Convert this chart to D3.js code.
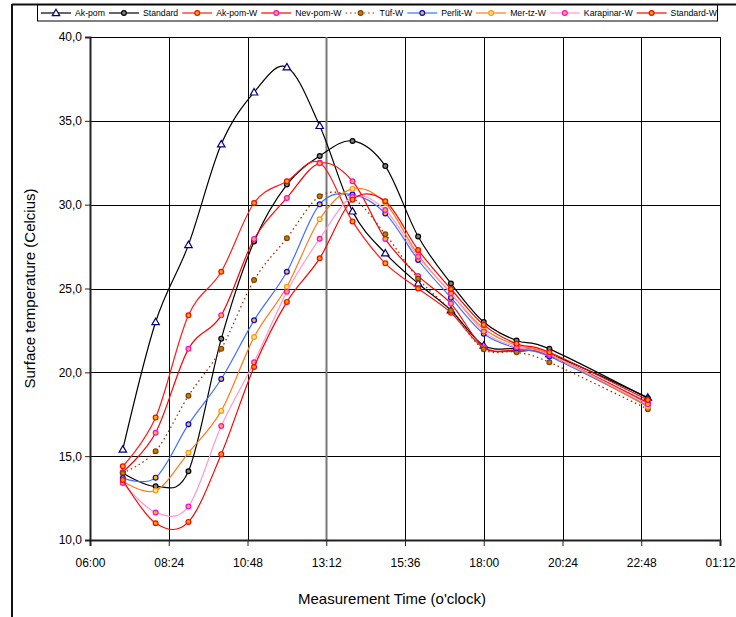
<!DOCTYPE html>
<html>
<head>
<meta charset="utf-8">
<script src="https://cdn.jsdelivr.net/npm/d3@7"></script>
<style>
	body { margin: 0; background: #fff; }
	svg text { font-family: "Liberation Sans", Arial, sans-serif; fill: #000; }
</style>
</head>
<body>
<div class="chart"></div>
<script>
// measurement hours (23 = last reading of the evening)
var hours = [7, 8, 9, 10, 11, 12, 13, 14, 15, 16, 17, 18, 19, 20, 23];

var akPom      = [15.4, 23.0, 27.6, 33.6, 36.7, 38.2, 34.7, 29.6, 27.1, 25.3, 23.7, 21.6, 21.4, 21.1, 18.5];
var standard   = [14.0, 13.2, 14.1, 22.0, 27.8, 31.2, 32.9, 33.8, 32.3, 28.1, 25.3, 23.0, 21.9, 21.4, 18.45];
var akPomW     = [14.4, 17.3, 23.4, 26.0, 30.1, 31.4, 32.5, 29.0, 26.5, 25.0, 23.55, 21.45, 21.25, 21.05, 18.15];
var nevPomW    = [14.06, 16.4, 21.4, 23.4, 27.95, 30.4, 32.47, 31.4, 27.95, 25.75, 24.1, 21.5, 21.3, 21.0, 18.2];
var tufW       = [14.0, 15.3, 18.6, 21.4, 25.5, 28.0, 30.5, 30.4, 28.24, 25.6, 23.68, 21.38, 21.2, 20.6, 17.8];
var perlitW    = [13.7, 13.72, 16.9, 19.6, 23.1, 26.0, 30.02, 30.6, 29.48, 26.7, 24.45, 22.3, 21.43, 20.94, 18.0];
var mertzW     = [13.5, 12.95, 15.2, 17.7, 22.1, 25.1, 29.13, 30.94, 30.1, 27.0, 24.7, 22.6, 21.6, 21.1, 17.95];
var karapinarW = [13.4, 11.64, 12.0, 16.8, 20.6, 24.8, 27.97, 30.45, 29.68, 26.9, 24.72, 22.43, 21.5, 21.05, 18.1];
var standardW  = [13.58, 11.0, 11.08, 15.12, 20.32, 24.2, 26.8, 30.3, 30.2, 27.3, 24.97, 22.83, 21.7, 21.2, 18.35];

var seriesNames = ["Ak-pom", "Standard", "Ak-pom-W", "Nev-pom-W", "Tüf-W", "Perlit-W", "Mer-tz-W", "Karapinar-W", "Standard-W"];
var seriesValues = [akPom, standard, akPomW, nevPomW, tufW, perlitW, mertzW, karapinarW, standardW];

var xTickValues = [6, 8.4, 10.8, 13.2, 15.6, 18, 20.4, 22.8, 25.2];
var xTickLabels = ["06:00", "08:24", "10:48", "13:12", "15:36", "18:00", "20:24", "22:48", "01:12"];
var yTickValues = [10, 15, 20, 25, 30, 35, 40];

// look of each series: line colour, dash, marker shape, marker fill, marker stroke
var styles = [
	{ line: "#000000", dash: null, shape: "tri", fill: "#ffffff", stroke: "#000080" },
	{ line: "#000000", dash: null, shape: "circ", fill: "#808080", stroke: "#000000" },
	{ line: "#ff1a1a", dash: null, shape: "circ", fill: "#ffb000", stroke: "#ff0000" },
	{ line: "#ff0000", dash: null, shape: "circ", fill: "#ffc000", stroke: "#ff00ff" },
	{ line: "#993300", dash: "1.5,3", shape: "circ", fill: "#cc7a00", stroke: "#804000" },
	{ line: "#3f6fff", dash: null, shape: "circ", fill: "#ffc000", stroke: "#0000ff" },
	{ line: "#ff7a1a", dash: null, shape: "circ", fill: "#ffe0a0", stroke: "#ff9900" },
	{ line: "#ff99cc", dash: null, shape: "circ", fill: "#ffc000", stroke: "#ff00ff" },
	{ line: "#ff0000", dash: null, shape: "circ", fill: "#ffa000", stroke: "#ff0000" }
];

var width = 736, height = 617,
	plotLeft = 90, plotRight = 720, plotTop = 37, plotBottom = 540;

var svg = d3.select("div.chart").append("svg")
	.attr("width", width)
	.attr("height", height);

var x = d3.scaleLinear().domain([6, 25.2]).range([plotLeft, plotRight]);
var y = d3.scaleLinear().domain([10, 40]).range([plotBottom, plotTop]);

// outer chart frame (top + left edge visible)
svg.append("line").attr("x1", 12).attr("x2", width).attr("y1", 4.5).attr("y2", 4.5)
	.attr("stroke", "#111").attr("stroke-width", 2);
svg.append("line").attr("x1", 12).attr("x2", 12).attr("y1", 4).attr("y2", height)
	.attr("stroke", "#111").attr("stroke-width", 2);

var grid = svg.append("g");
grid.selectAll(".hgrid").data(yTickValues).enter().append("line")
	.attr("x1", plotLeft).attr("x2", plotRight)
	.attr("y1", function(d) { return Math.round(y(d)) + 0.5; })
	.attr("y2", function(d) { return Math.round(y(d)) + 0.5; })
	.attr("stroke", "#000").attr("stroke-width", 1);
grid.selectAll(".vgrid").data(xTickValues).enter().append("line")
	.attr("x1", function(d) { return Math.round(x(d)) + 0.5; })
	.attr("x2", function(d) { return Math.round(x(d)) + 0.5; })
	.attr("y1", plotTop).attr("y2", plotBottom)
	.attr("stroke", function(d) { return d == 13.2 ? "#777" : "#000"; })
	.attr("stroke-width", function(d) { return d == 13.2 ? 2 : 1; });

// axes
var xAxis = d3.axisBottom(x).tickValues(xTickValues)
	.tickFormat(function(d, i) { return xTickLabels[i]; })
	.tickSize(6).tickPadding(12);
var yAxis = d3.axisLeft(y).tickValues(yTickValues)
	.tickFormat(function(d) { return d3.format(".1f")(d).replace(".", ","); })
	.tickSize(5).tickPadding(3);

var gx = svg.append("g").attr("transform", "translate(0," + plotBottom + ")").call(xAxis);
var gy = svg.append("g").attr("transform", "translate(" + plotLeft + ",0)").call(yAxis);
[gx, gy].forEach(function(g) {
	g.select(".domain").attr("stroke", "#222").attr("stroke-width", 2);
	g.selectAll(".tick line").attr("stroke", "#222");
	g.selectAll("text").attr("font-size", 12).attr("font-family", "Liberation Sans, Arial, sans-serif");
});

// series lines
var line = d3.line()
	.x(function(d) { return x(d[0]); })
	.y(function(d) { return y(d[1]); })
	.curve(d3.curveCardinal.tension(0));

var plot = svg.append("g");
var tri = d3.symbol().type(d3.symbolTriangle).size(24);

function drawMarker(g, s, cx, cy) {
	if (s.shape == "tri") {
		g.append("path").attr("d", tri())
			.attr("transform", "translate(" + cx + "," + (cy + 0.5) + ")")
			.attr("fill", s.fill).attr("stroke", s.stroke).attr("stroke-width", 1.2);
	} else {
		g.append("circle").attr("cx", cx).attr("cy", cy).attr("r", 2.4)
			.attr("fill", s.fill).attr("stroke", s.stroke).attr("stroke-width", 1.2);
	}
}

seriesValues.forEach(function(vals, i) {
	var s = styles[i];
	var pts = hours.map(function(h, j) { return [h, vals[j]]; });
	var g = plot.append("g");
	g.append("path")
		.attr("d", line(pts))
		.attr("fill", "none")
		.attr("stroke", s.line)
		.attr("stroke-width", s.dash ? 1.3 : 1.2)
		.attr("stroke-dasharray", s.dash);
	pts.forEach(function(p) { drawMarker(g, s, x(p[0]), y(p[1])); });
});

// axis titles
svg.append("text")
	.attr("x", (plotLeft + plotRight) / 2 - 13).attr("y", 604)
	.attr("text-anchor", "middle").attr("font-size", 15)
	.text("Measurement Time (o'clock)");
svg.append("text")
	.attr("transform", "translate(35," + ((plotTop + plotBottom) / 2) + ") rotate(-90)")
	.attr("text-anchor", "middle").attr("font-size", 15)
	.text("Surface temperature (Celcius)");

// legend
var legend = svg.append("g");
legend.append("rect").attr("x", 37.5).attr("y", 5).attr("width", 680).attr("height", 16)
	.attr("fill", "#fff").attr("stroke", "#000").attr("stroke-width", 1);
var lx = 41, ly = 13;
seriesNames.forEach(function(name, i) {
	var s = styles[i];
	var g = legend.append("g");
	g.append("line").attr("x1", lx).attr("x2", lx + 30).attr("y1", ly).attr("y2", ly)
		.attr("stroke", s.line).attr("stroke-width", 1.2).attr("stroke-dasharray", s.dash);
	drawMarker(g, s, lx + 15, ly);
	var t = g.append("text").attr("x", lx + 34).attr("y", ly + 3.2)
		.attr("font-size", 8.7).text(name);
	lx += 34 + t.node().getComputedTextLength() + 4;
});
</script>
</body>
</html>
